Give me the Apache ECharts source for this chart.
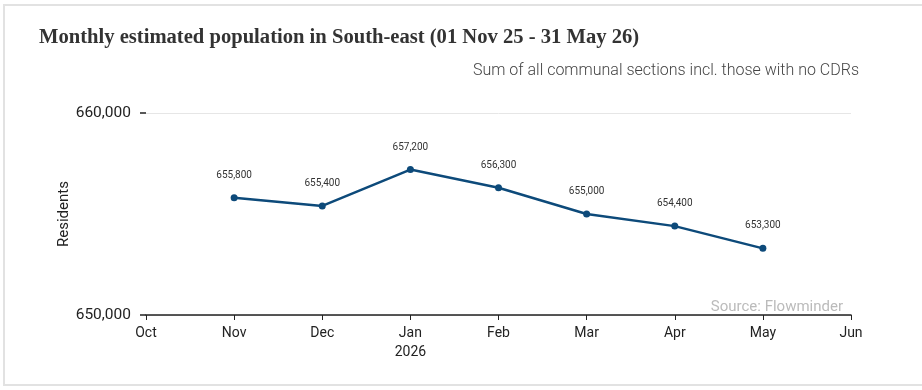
<!DOCTYPE html>
<html>
<head>
<meta charset="utf-8">
<script src="https://cdn.jsdelivr.net/npm/echarts@6/dist/echarts.min.js"></script>
<style>
html,body{margin:0;padding:0;background:#fff;}
#chart{width:922px;height:390px;}
</style>
</head>
<body>
<div id="chart"></div>
<script>
const months = ['Oct','Nov','Dec','Jan','Feb','Mar','Apr','May','Jun'];
const monthLabels = ['Oct','Nov','Dec','Jan\n2026','Feb','Mar','Apr','May','Jun'];
const residents = [null,655800,655400,657200,656300,655000,654400,653300,null];
const yTicks = [650000,660000];

const chart = echarts.init(document.getElementById('chart'));
chart.setOption({
  animation:false,
  backgroundColor:'#fff',
  graphic:[{
    type:'rect', shape:{x:4,y:5,width:940,height:380},
    style:{fill:'none',stroke:'#e2e2e2',lineWidth:2}, silent:true
  }],
  title:[{
    text:'Monthly estimated population in South-east (01 Nov 25 - 31 May 26)',
    left:34, top:22,
    textStyle:{fontFamily:'Liberation Serif',fontSize:20.6,fontWeight:'bold',color:'#333'}
  },{
    text:'Sum of all communal sections incl. those with no CDRs',
    right:58, top:58,
    textStyle:{fontFamily:'Roboto',fontSize:16,fontWeight:300,color:'#444'}
  },{
    text:'Source: Flowminder',
    right:74, top:295,
    textStyle:{fontFamily:'Roboto',fontSize:15,fontWeight:'normal',color:'#bbb'}
  }],
  grid:{left:146,right:71,top:113,bottom:75},
  xAxis:{
    type:'category', data:months, boundaryGap:false,
    axisLine:{lineStyle:{color:'#222',width:1.5}},
    axisTick:{show:true,length:5,lineStyle:{color:'#222'}},
    axisLabel:{
      color:'#222',fontFamily:'Roboto',fontSize:14,margin:9,lineHeight:19,
      formatter:(v,i)=>monthLabels[i]
    }
  },
  yAxis:{
    type:'value', min:yTicks[0], max:yTicks[1], interval:yTicks[1]-yTicks[0],
    name:'Residents', nameLocation:'middle', nameGap:74, nameRotate:90,
    nameMoveOverlap:false,
    nameTextStyle:{fontFamily:'Roboto',fontSize:15,color:'#222'},
    axisLine:{show:false},
    axisTick:{show:true,length:6,lineStyle:{color:'#222',width:1.5}},
    axisLabel:{
      color:'#222',fontFamily:'Roboto',fontSize:15.5,margin:15,
      formatter:v=>v.toLocaleString('en-US')
    },
    splitLine:{show:true,lineStyle:{color:'#e6e6e6',width:1}}
  },
  series:[{
    type:'line', data:residents, connectNulls:false,
    symbol:'circle', symbolSize:7,
    lineStyle:{color:'#0d4a7a',width:2.5},
    itemStyle:{color:'#0d4a7a'},
    label:{
      show:true, position:'top', distance:14,
      fontFamily:'Roboto', fontSize:10, color:'#333',
      formatter:p=>p.value==null?'':p.value.toLocaleString('en-US')
    }
  }]
});
</script>
</body>
</html>
